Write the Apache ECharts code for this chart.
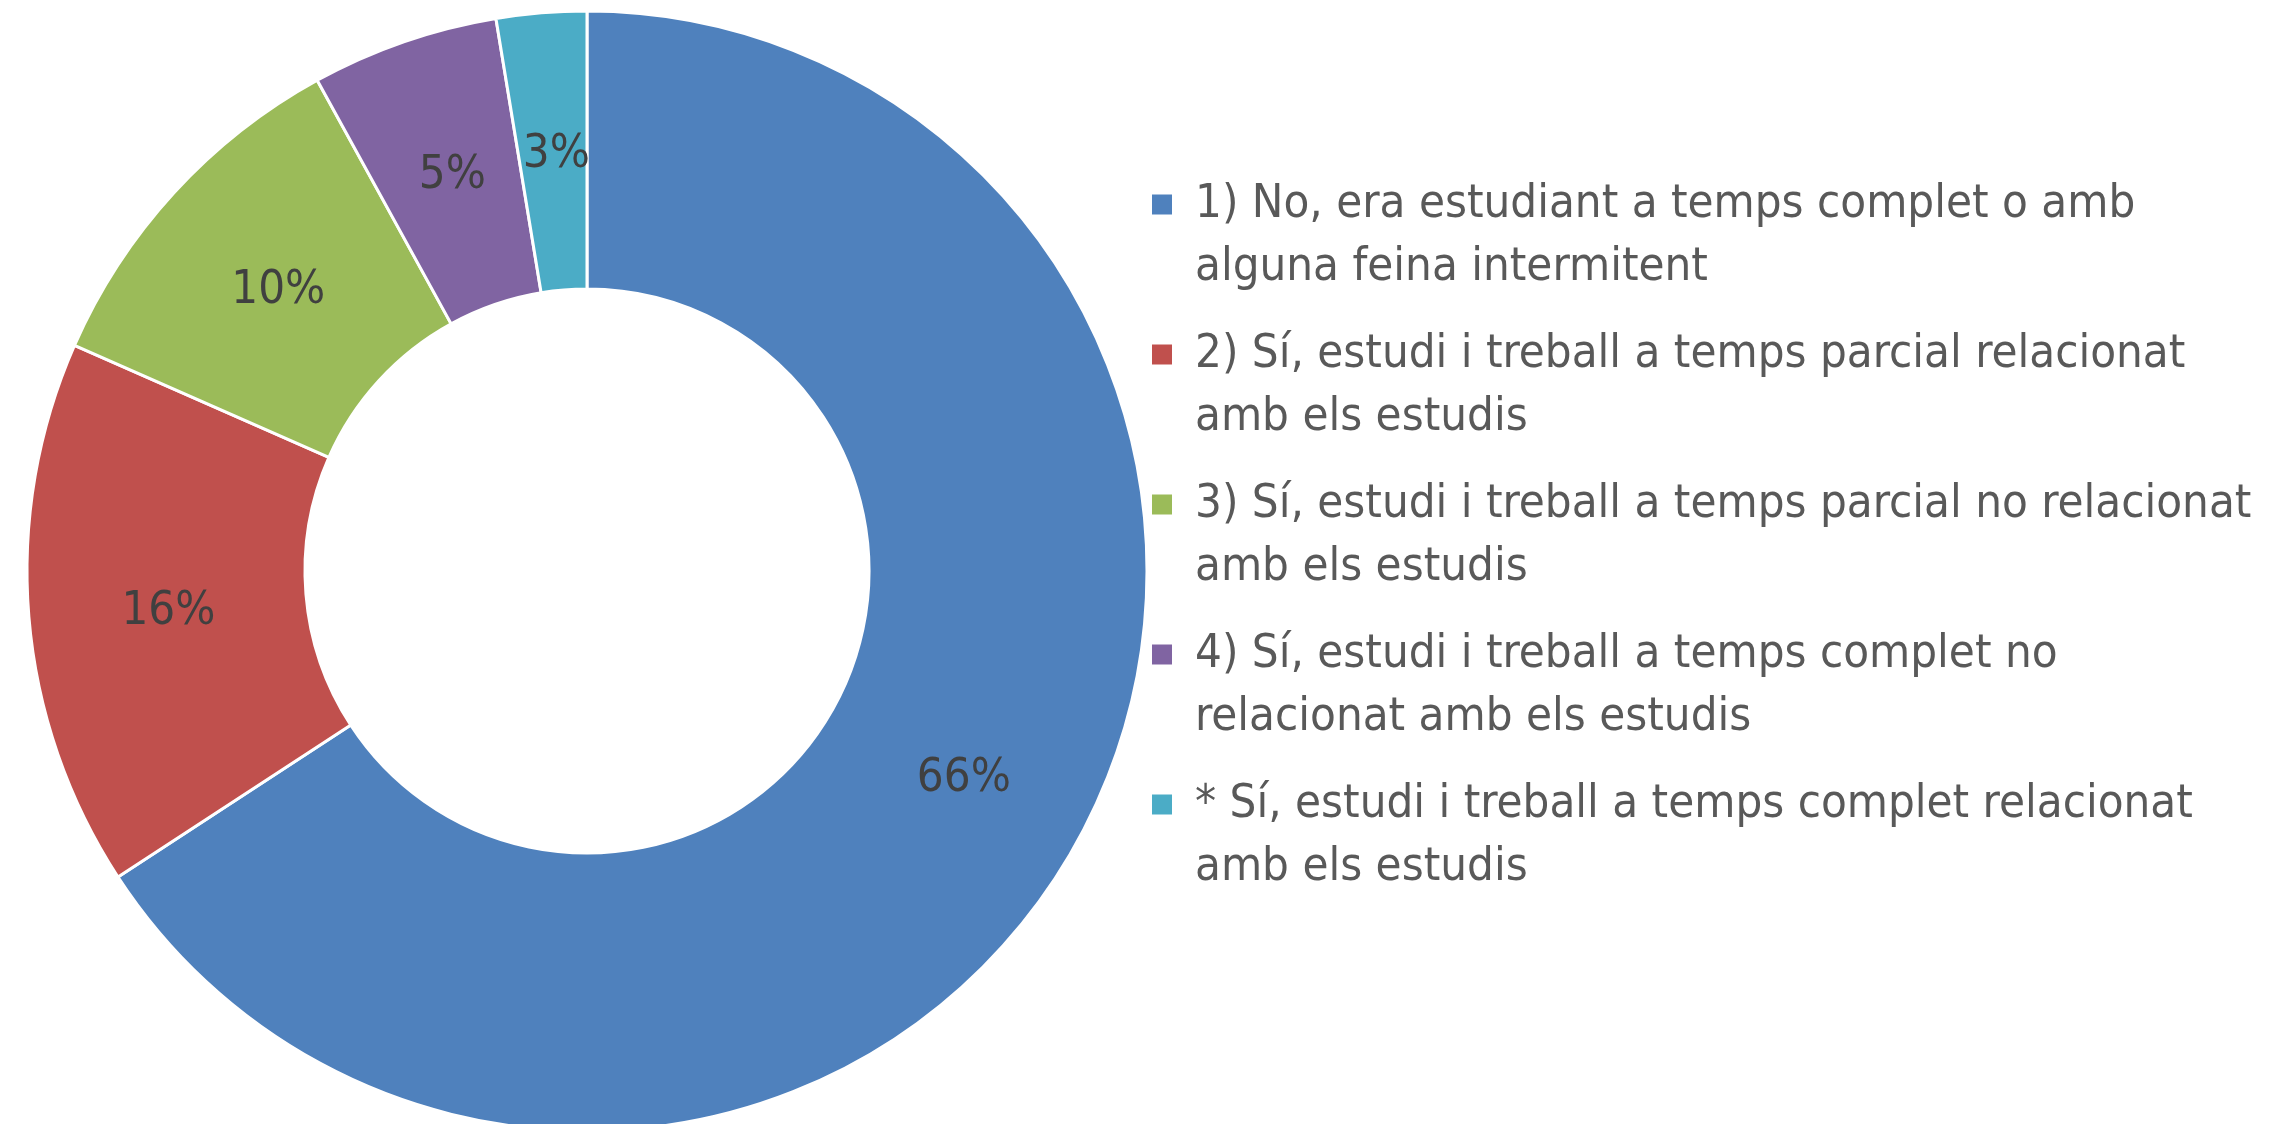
<!DOCTYPE html>
<html>
<head>
<meta charset="utf-8">
<script src="https://cdn.jsdelivr.net/npm/echarts@6/dist/echarts.min.js"></script>
<style>
    html, body { margin: 0; padding: 0; background: #fff; }
    #chart { width: 2285px; height: 1124px; }
</style>
</head>
<body>
<div id="chart"></div>
<script>
const categories = [
    '1) No, era estudiant a temps complet o amb\nalguna feina intermitent',
    '2) Sí, estudi i treball a temps parcial relacionat\namb els estudis',
    '3) Sí, estudi i treball a temps parcial no relacionat\namb els estudis',
    '4) Sí, estudi i treball a temps complet no\nrelacionat amb els estudis',
    '* Sí, estudi i treball a temps complet relacionat\namb els estudis'
];
const values = [65.8, 15.8, 10.4, 5.4, 2.6];
const colors = ['#4F81BD', '#C0504D', '#9BBB59', '#8064A2', '#4BACC6'];

const fontFamily = "'Liberation Sans Narrow', 'DejaVu Sans Condensed', 'Noto Sans', sans-serif";

const rich = {
    g: { width: 23 },
    s: { width: 43 }
};
colors.forEach(function (c, i) {
    rich['m' + i] = { width: 20, height: 20, backgroundColor: c };
});

const chart = echarts.init(document.getElementById('chart'));
chart.setOption({
    animation: false,
    color: colors,
    legend: {
        orient: 'vertical',
        left: 1146,
        top: 173,
        padding: 0,
        itemWidth: 0,
        itemHeight: 0,
        itemGap: 24,
        selectedMode: false,
        data: categories,
        formatter: function (name) {
            const i = categories.indexOf(name);
            const lines = name.split('\n');
            return '{m' + i + '|}{g|}' + lines[0] + '\n{s|}' + lines[1];
        },
        textStyle: {
            fontFamily: fontFamily,
            fontSize: 47,
            lineHeight: 63,
            color: '#595959',
            rich: rich
        }
    },
    series: [
        {
            type: 'pie',
            center: [587, 571],
            radius: [282, 560],
            startAngle: 90,
            clockwise: true,
            avoidLabelOverlap: false,
            itemStyle: {
                borderColor: '#fff',
                borderWidth: 3
            },
            label: {
                position: 'inside',
                formatter: function (p) { return Math.round(p.value) + '%'; },
                fontFamily: fontFamily,
                fontSize: 47,
                color: '#404040',
                offset: [4, 6]
            },
            labelLine: { show: false },
            data: categories.map(function (name, i) {
                return { name: name, value: values[i] };
            })
        }
    ]
});
</script>
</body>
</html>
